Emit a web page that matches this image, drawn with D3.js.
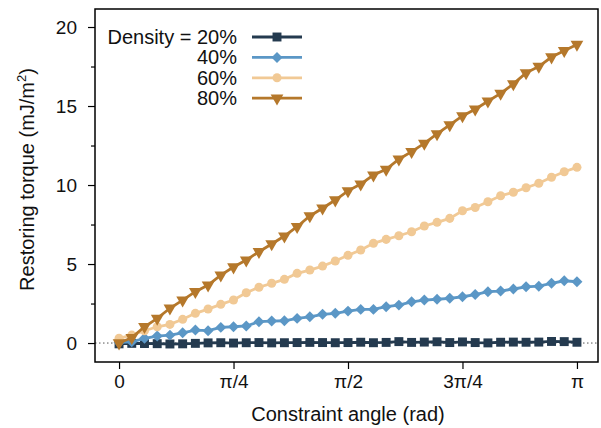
<!DOCTYPE html>
<html>
<head>
<meta charset="utf-8">
<script src="https://cdn.jsdelivr.net/npm/d3@7"></script>
<style>
  body { margin: 0; background: #fff; }
  text { font-family: "Liberation Sans", Arial, sans-serif; }
</style>
</head>
<body>
<div class="chart"></div>
<script>
// constraint angle in degrees (5 degree steps)
const angleDeg = [0, 5, 10, 15, 20, 25, 30, 35, 40, 45, 50, 55, 60, 65, 70, 75, 80, 85, 90,
    95, 100, 105, 110, 115, 120, 125, 130, 135, 140, 145, 150, 155, 160, 165, 170, 175, 180];

const density20 = [-0.05, -0.02, -0.03, -0.04, -0.06, -0.05, -0.02, 0.01, 0.02, 0.0, 0.02, 0.03,
    0.01, 0.02, 0.03, 0.04, 0.03, 0.02, 0.03, 0.05, 0.02, 0.04, 0.09, 0.04, 0.06, 0.08, 0.03,
    0.07, 0.03, 0.01, 0.05, 0.06, 0.05, 0.06, 0.10, 0.09, 0.05];
const density40 = [0.04, 0.08, 0.3, 0.44, 0.5, 0.65, 0.82, 0.78, 0.99, 1.03, 1.08, 1.35, 1.39,
    1.41, 1.56, 1.66, 1.82, 1.88, 2.02, 2.13, 2.13, 2.3, 2.4, 2.61, 2.72, 2.77, 2.83, 2.93,
    3.07, 3.25, 3.29, 3.42, 3.56, 3.6, 3.78, 3.94, 3.88];
const density60 = [0.3, 0.5, 0.78, 1.03, 1.18, 1.5, 1.88, 2.15, 2.45, 2.72, 3.18, 3.53, 3.78,
    4.03, 4.41, 4.62, 4.87, 5.19, 5.55, 5.89, 6.31, 6.56, 6.79, 7.04, 7.41, 7.64, 7.89, 8.37,
    8.58, 8.94, 9.32, 9.54, 9.83, 10.11, 10.49, 10.84, 11.12];
const density80 = [0.0, 0.34, 1.03, 1.56, 2.2, 2.72, 3.25, 3.67, 4.3, 4.81, 5.25, 5.78, 6.27,
    6.77, 7.36, 8.04, 8.53, 9.05, 9.63, 10.06, 10.63, 10.99, 11.63, 12.11, 12.64, 13.23, 13.8,
    14.37, 14.8, 15.3, 15.8, 16.4, 17.1, 17.5, 18.1, 18.5, 18.9];

const seriesNames = ["Density = 20%", "40%", "60%", "80%"];
const yTicks = [0, 5, 10, 15, 20];
const yMinorTicks = [2.5, 7.5, 12.5, 17.5];
const xTicks = [0, Math.PI / 4, Math.PI / 2, 3 * Math.PI / 4, Math.PI];
const xTickLabels = ["0", "π/4", "π/2", "3π/4", "π"];

const series = [
    { name: seriesNames[0], values: density20, color: "#243a4f", symbol: d3.symbolSquare, size: 80, rot: 0 },
    { name: seriesNames[1], values: density40, color: "#5b97c6", symbol: d3.symbolSquare, size: 60, rot: 45 },
    { name: seriesNames[2], values: density60, color: "#f1c995", symbol: d3.symbolCircle, size: 64, rot: 0 },
    { name: seriesNames[3], values: density80, color: "#b5782b", symbol: d3.symbolTriangle, size: 70, rot: 180 }
];

const width = 601, height = 428;
const margin = { top: 9, right: 3, bottom: 66, left: 95 };
const innerW = width - margin.left - margin.right;
const innerH = height - margin.top - margin.bottom;

const svg = d3.select(".chart")
    .append("svg")
    .attr("width", width)
    .attr("height", height);

const g = svg.append("g")
    .attr("transform", `translate(${margin.left}, ${margin.top})`);

const xScale = d3.scaleLinear().domain([-0.165, 3.286]).range([0, innerW]);
const yScale = d3.scaleLinear().domain([-1.2, 21.14]).range([innerH, 0]);

// zero reference line
g.append("line")
    .attr("x1", 0).attr("x2", innerW)
    .attr("y1", yScale(0)).attr("y2", yScale(0))
    .attr("stroke", "#555")
    .attr("stroke-width", 1)
    .attr("stroke-dasharray", "1.5,2.5");

// axes
g.append("g").attr("class", "y-axis")
    .call(d3.axisLeft(yScale).tickValues(yTicks).tickSize(7).tickPadding(11));
g.append("g").attr("class", "y-minor")
    .call(d3.axisLeft(yScale).tickValues(yMinorTicks).tickSize(4).tickFormat(""));
g.append("g").attr("class", "x-axis")
    .attr("transform", `translate(0, ${innerH})`)
    .call(d3.axisBottom(xScale).tickValues(xTicks).tickSize(7).tickPadding(6)
        .tickFormat((d, i) => xTickLabels[i]));

g.selectAll(".domain").remove();
g.selectAll(".tick line").attr("stroke", "#000").attr("stroke-width", 1.2);
g.selectAll(".tick text").attr("font-size", 19).attr("fill", "#111")
    .style("font-family", "'Liberation Sans', Arial, sans-serif");

// lines + markers
const line = d3.line()
    .x((d, i) => xScale(angleDeg[i] * Math.PI / 180))
    .y(d => yScale(d));

series.forEach(s => {
    g.append("path")
        .datum(s.values)
        .attr("d", line)
        .attr("fill", "none")
        .attr("stroke", s.color)
        .attr("stroke-width", 2.8);

    g.selectAll(null)
        .data(s.values)
        .enter()
        .append("path")
        .attr("d", d3.symbol().type(s.symbol).size(s.size))
        .attr("transform", (d, i) =>
            `translate(${xScale(angleDeg[i] * Math.PI / 180)}, ${yScale(d)}) rotate(${s.rot})`)
        .attr("fill", s.color);
});

// frame
g.append("rect")
    .attr("width", innerW).attr("height", innerH)
    .attr("fill", "none")
    .attr("stroke", "#000")
    .attr("stroke-width", 1.5);

// legend
const legend = svg.append("g").attr("transform", "translate(237, 37)");
series.forEach((s, i) => {
    const row = legend.append("g").attr("transform", `translate(0, ${i * 20.4})`);
    row.append("text")
        .attr("x", 0).attr("y", 7)
        .attr("text-anchor", "end")
        .attr("font-size", 20)
        .attr("fill", "#111")
        .text(s.name);
    row.append("line")
        .attr("x1", 15).attr("x2", 65)
        .attr("stroke", s.color).attr("stroke-width", 2.8);
    row.append("path")
        .attr("d", d3.symbol().type(s.symbol).size(s.size))
        .attr("transform", `translate(40, 0) rotate(${s.rot})`)
        .attr("fill", s.color);
});

// axis titles
svg.append("text")
    .attr("x", margin.left + xScale(Math.PI / 2))
    .attr("y", 421)
    .attr("text-anchor", "middle")
    .attr("font-size", 20)
    .attr("fill", "#111")
    .text("Constraint angle (rad)");

const yTitle = svg.append("text")
    .attr("transform", `translate(34, ${margin.top + innerH / 2 - 6}) rotate(-90)`)
    .attr("text-anchor", "middle")
    .attr("font-size", 20)
    .attr("fill", "#111");
yTitle.append("tspan").text("Restoring torque (mJ/m");
yTitle.append("tspan").attr("font-size", 13).attr("dy", -8).text("2");
yTitle.append("tspan").attr("dy", 8).text(")");
</script>
</body>
</html>
